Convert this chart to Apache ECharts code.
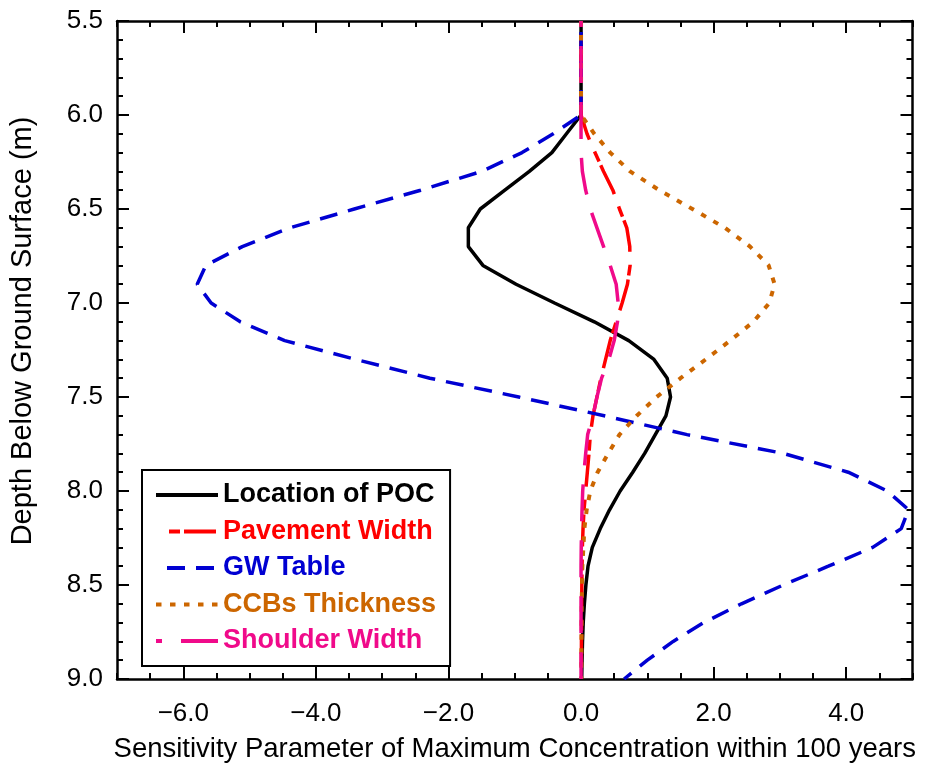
<!DOCTYPE html>
<html>
<head>
<meta charset="utf-8">
<script src="https://cdn.jsdelivr.net/npm/echarts@6/dist/echarts.min.js"></script>
<style>
html,body{margin:0;padding:0;background:#fff;}
#chart{width:925px;height:770px;}
</style>
</head>
<body>
<div id="chart"></div>
<script>
// Depth below ground surface (m)
const depth = [5.5, 6.0, 6.1, 6.2, 6.3, 6.4, 6.5, 6.6, 6.7, 6.8, 6.9, 7.0, 7.1, 7.2, 7.3, 7.4, 7.5,
               7.6, 7.7, 7.8, 7.9, 8.0, 8.1, 8.2, 8.3, 8.4, 8.5, 8.6, 8.7, 8.8, 8.9, 9.0];
// Sensitivity parameters for each depth
const locationPOC = [0, 0, -0.22, -0.44, -0.78, -1.15, -1.52, -1.70, -1.70, -1.48, -0.98, -0.40, 0.20, 0.72, 1.10, 1.30, 1.35,
                     1.28, 1.12, 0.96, 0.78, 0.59, 0.43, 0.29, 0.17, 0.105, 0.073, 0.05, 0.033, 0.022, 0.015, 0.01];
const pavementWidth = [0, 0, 0.09, 0.21, 0.34, 0.48, 0.58, 0.69, 0.735, 0.74, 0.70, 0.62, 0.53, 0.44, 0.37, 0.30, 0.24,
                       0.18, 0.14, 0.12, 0.095, 0.07, 0.045, 0.03, 0.02, 0.015, 0.012, 0.01, 0.008, 0.006, 0.005, 0.005];
const gwTable = [0, 0, -0.42, -0.89, -1.50, -2.42, -3.42, -4.39, -5.11, -5.66, -5.79, -5.58, -5.14, -4.47, -3.40, -2.28, -0.94,
                 0.35, 1.60, 3.05, 4.03, 4.62, 4.94, 4.83, 4.40, 3.73, 3.05, 2.42, 1.85, 1.39, 1.00, 0.65];
const ccbsThickness = [0, 0, 0.20, 0.44, 0.74, 1.18, 1.68, 2.17, 2.55, 2.83, 2.92, 2.84, 2.60, 2.25, 1.88, 1.50, 1.14,
                       0.84, 0.58, 0.41, 0.25, 0.14, 0.085, 0.05, 0.035, 0.02, 0.015, 0.01, 0.008, 0.006, 0.005, 0.005];
const shoulderWidth = [0, 0, 0, 0, 0.02, 0.07, 0.14, 0.24, 0.34, 0.44, 0.53, 0.56, 0.55, 0.50, 0.42, 0.31, 0.24,
                       0.18, 0.10, 0.07, 0.045, 0.025, 0.015, 0.008, 0.003, 0, 0, 0, 0, 0, 0, 0];

const seriesNames = ['Location of POC', 'Pavement Width', 'GW Table', 'CCBs Thickness', 'Shoulder Width'];
const seriesColors = ['#000000', '#ff0000', '#0000d2', '#cc6600', '#f00a8a'];
const xMajorTicks = [-6, -4, -2, 0, 2, 4];
const xTitle = 'Sensitivity Parameter of Maximum Concentration within 100 years';
const yTitle = 'Depth Below Ground Surface (m)';

const FONT = 'Liberation Sans, Arial, Helvetica, sans-serif';
const values = [locationPOC, pavementWidth, gwTable, ccbsThickness, shoulderWidth];
const dashes = [
  {type: 'solid', dashOffset: 0},
  {type: [32, 13, 11, 4], dashOffset: 32},
  {type: [18, 11], dashOffset: 18},
  {type: [5.5, 8.5], dashOffset: 0},
  {type: [37, 19], dashOffset: 31}
];
const widths = [3.5, 3.5, 3.5, 4, 3.5];

const fmtX = v => (v < 0 ? '\u2212' : '') + Math.abs(v).toFixed(1);

const axisLineStyle = {color: '#000', width: 2.5};
const tickLine = {color: '#000', width: 2};

const chart = echarts.init(document.getElementById('chart'), null, {renderer: 'canvas'});
chart.setOption({
  backgroundColor: '#fff',
  animation: false,
  grid: {left: 116, right: 12.5, top: 21, bottom: 91, containLabel: false},
  xAxis: [
    { // minor ticks bottom
      type: 'value', min: -7, max: 5, interval: 0.5, position: 'bottom',
      axisLine: {show: true, onZero: false, lineStyle: axisLineStyle},
      axisTick: {show: true, inside: true, length: 6, lineStyle: tickLine},
      axisLabel: {show: false}, splitLine: {show: false}
    },
    { // major ticks + labels bottom
      type: 'value', min: -7, max: 5, position: 'bottom',
      axisLine: {show: false, onZero: false},
      axisTick: {show: true, inside: true, length: 12, customValues: xMajorTicks, lineStyle: tickLine},
      axisLabel: {show: true, customValues: xMajorTicks, formatter: fmtX, fontSize: 26, fontFamily: FONT, color: '#000', margin: 22},
      splitLine: {show: false},
      name: xTitle, nameLocation: 'middle', nameGap: 56,
      nameTextStyle: {fontSize: 27.5, fontFamily: FONT, color: '#000'}
    },
    { // minor ticks top
      type: 'value', min: -7, max: 5, interval: 0.5, position: 'top',
      axisLine: {show: true, onZero: false, lineStyle: axisLineStyle},
      axisTick: {show: true, inside: true, length: 6, lineStyle: tickLine},
      axisLabel: {show: false}, splitLine: {show: false}
    },
    { // major ticks top
      type: 'value', min: -7, max: 5, position: 'top',
      axisLine: {show: false, onZero: false},
      axisTick: {show: true, inside: true, length: 12, customValues: xMajorTicks, lineStyle: tickLine},
      axisLabel: {show: false}, splitLine: {show: false}
    }
  ],
  yAxis: [
    {
      type: 'value', min: 5.5, max: 9.0, interval: 0.5, inverse: true, position: 'left',
      axisLine: {show: true, onZero: false, lineStyle: axisLineStyle},
      axisTick: {show: true, inside: true, length: 12, lineStyle: tickLine},
      minorTick: {show: true, splitNumber: 5, length: 6, lineStyle: tickLine},
      axisLabel: {show: true, formatter: v => v.toFixed(1), fontSize: 26, fontFamily: FONT, color: '#000', margin: 14},
      splitLine: {show: false},
      name: yTitle, nameLocation: 'middle', nameGap: 80, nameRotate: 90,
      nameTextStyle: {fontSize: 29, fontFamily: FONT, color: '#000', padding: [0, 0, 0, 38]}
    },
    {
      type: 'value', min: 5.5, max: 9.0, interval: 0.5, inverse: true, position: 'right',
      axisLine: {show: true, onZero: false, lineStyle: axisLineStyle},
      axisTick: {show: true, inside: true, length: 12, lineStyle: tickLine},
      minorTick: {show: true, splitNumber: 5, length: 6, lineStyle: tickLine},
      axisLabel: {show: false}, splitLine: {show: false}
    }
  ],
  legend: {
    orient: 'vertical', left: 142, top: 470,
    padding: [10, 14, 10, 12],
    itemGap: 6.5, itemWidth: 62, itemHeight: 14,
    borderColor: '#000', borderWidth: 2, backgroundColor: '#fff',
    selectedMode: false,
    itemStyle: {opacity: 0, borderWidth: 0},
    lineStyle: {width: 4},
    textStyle: {fontSize: 27, fontWeight: 'bold', fontFamily: FONT, lineHeight: 30},
    data: seriesNames.map((n, i) => ({name: n, textStyle: {color: seriesColors[i]}}))
  },
  series: seriesNames.map((n, i) => ({
    name: n, type: 'line', xAxisIndex: 0, yAxisIndex: 0,
    symbol: 'none', smooth: false, clip: true,
    color: seriesColors[i],
    lineStyle: {color: seriesColors[i], width: widths[i], type: dashes[i].type, dashOffset: dashes[i].dashOffset},
    data: depth.map((d, k) => [values[i][k], d]),
    z: 2 + i
  }))
});
</script>
</body>
</html>
